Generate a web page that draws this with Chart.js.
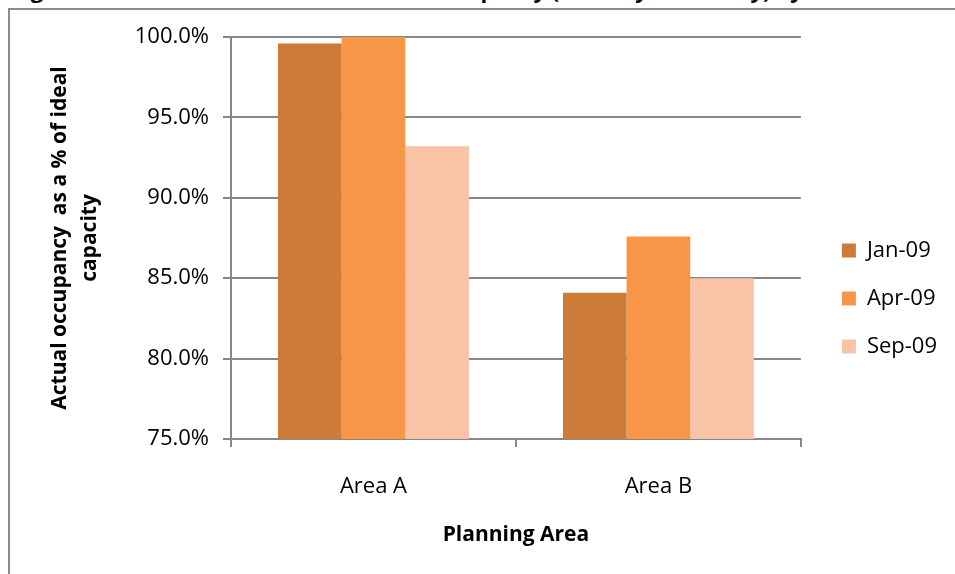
<!DOCTYPE html>
<html>
<head>
<meta charset="utf-8">
<script src="https://cdn.jsdelivr.net/npm/chart.js@4"></script>
<style>
  html, body { margin: 0; padding: 0; background: #fff; }
  body { width: 955px; height: 574px; position: relative; overflow: hidden; }
  #frame {
    position: absolute; left: 8px; top: 8px; width: 980px; height: 600px;
    border: 2px solid #8c8c8c; background: #fff;
  }
  #caption {
    position: absolute; left: 12px; top: -26px; white-space: nowrap;
    font: bold 22px "Open Sans", sans-serif; color: #000;
  }
  #chart { position: absolute; left: 0; top: 0; }
</style>
</head>
<body>
<div id="caption">Figure 2: Trends of On-street Car Park occupancy (Monday to Sunday) by Area</div>
<div id="frame"></div>
<canvas id="chart" width="955" height="574"></canvas>
<script>
// --- data ---
const areas = ['Area A', 'Area B'];
const seriesNames = ['Jan-09', 'Apr-09', 'Sep-09'];
const jan09 = [99.6, 84.1];
const apr09 = [100.0, 87.6];
const sep09 = [93.2, 85.0];
const yTicks = [75, 80, 85, 90, 95, 100];
const colours = ['#CC7B38', '#F79646', '#F9C3A8'];

const gridGrey = '#878787';
const font = '"Open Sans", sans-serif';

// nudge the legend to where Excel put it
const moveLegend = {
  id: 'moveLegend',
  afterLayout(chart) {
    const l = chart.legend;
    const dx = 15, dy = -7;
    l.left += dx; l.right += dx;
    l.top += dy; l.bottom += dy;
  }
};

new Chart(document.getElementById('chart'), {
  type: 'bar',
  data: {
    labels: areas,
    datasets: [jan09, apr09, sep09].map((d, i) => ({
      label: seriesNames[i],
      data: d,
      backgroundColor: colours[i],
      borderWidth: 0,
      categoryPercentage: 0.67,
      barPercentage: 1.0
    }))
  },
  options: {
    responsive: false,
    animation: false,
    layout: { padding: { left: 10, top: 37, right: 23, bottom: 0 } },
    scales: {
      y: {
        min: 75,
        max: 100,
        afterBuildTicks: s => { s.ticks = yTicks.map(v => ({ value: v })); },
        afterFit: s => { s.width = 221; },
        ticks: {
          color: '#000',
          font: { family: font, size: 22 },
          padding: 14,
          callback: v => v.toFixed(1) + '%'
        },
        grid: { color: gridGrey, lineWidth: 2, tickLength: 8 },
        border: { color: gridGrey, width: 2 },
        title: {
          display: true,
          text: ['Actual occupancy  as a % of ideal', 'capacity'],
          color: '#000',
          font: { family: font, size: 21, weight: 'bold', lineHeight: 1.43 },
          padding: { top: 35 }
        }
      },
      x: {
        afterFit: s => { s.height = 135; },
        ticks: {
          color: '#000',
          font: { family: font, size: 22 },
          padding: 27
        },
        grid: { drawOnChartArea: false, color: gridGrey, lineWidth: 2, tickLength: 8, offset: true },
        border: { color: gridGrey, width: 2 },
        title: {
          display: true,
          text: 'Planning Area',
          color: '#000',
          font: { family: font, size: 21, weight: 'bold', lineHeight: 1.2 },
          padding: { bottom: 26 }
        }
      }
    },
    plugins: {
      legend: {
        position: 'right',
        align: 'center',
        labels: {
          color: '#000',
          font: { family: font, size: 22 },
          boxWidth: 14,
          boxHeight: 14,
          padding: 26
        }
      },
      tooltip: { enabled: false }
    }
  },
  plugins: [moveLegend]
});
</script>
</body>
</html>
